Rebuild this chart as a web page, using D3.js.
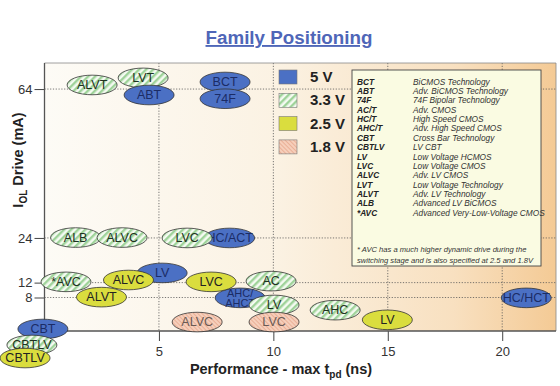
<!DOCTYPE html>
<html><head><meta charset="utf-8">
<script src="https://cdn.jsdelivr.net/npm/d3@7"></script>
<style>body{margin:0;background:#fff}svg{display:block;font-family:"Liberation Sans",Arial,sans-serif}</style>
</head><body><svg id="c" width="560" height="386"></svg>
<script>
// ---- data ----
const voltages = ["5 V", "3.3 V", "2.5 V", "1.8 V"];
const families = ["ALVT","LVT","ABT","BCT","74F","ALB","ALVC","HC/ACT","LVC","*AVC","LV","ALVC","ALVT","AHC/\nAHCT","LVC","AC","LV","AHC","ALVC","LVC","LV","HC/HCT","CBT","CBTLV","CBTLV"];
const familyVoltage = ["3.3 V","3.3 V","5 V","5 V","5 V","3.3 V","3.3 V","5 V","3.3 V","3.3 V","5 V","2.5 V","2.5 V","5 V","2.5 V","3.3 V","3.3 V","3.3 V","1.8 V","1.8 V","2.5 V","5 V","5 V","3.3 V","2.5 V"];
const perfNs  = [2.08,4.31,4.57,7.89,7.89,1.36,3.39,8.09,6.23,0.94,5.14,3.67,2.49,8.55,7.28,9.9,10.03,12.7,6.67,10.03,14.98,21.05,-0.07,-0.55,-0.85];
const driveMA = [65.1,67,62.4,65.9,61.4,24.1,24.1,24,24,12.2,14.6,12.7,8.1,7.9,12.2,12.4,6.0,4.6,1.4,1.4,2.0,7.9,-0.46,-4.76,-8.26];
const xTicks = [5, 10, 15, 20];
const yTicks = [64, 24, 12, 8];
const defAbbr = ["BCT","ABT","74F","AC/T","HC/T","AHC/T","CBT","CBTLV","LV","LVC","ALVC","LVT","ALVT","ALB","*AVC"];
const defText = ["BiCMOS Technology","Adv. BiCMOS Technology","74F Bipolar Technology","Adv. CMOS","High Speed CMOS","Adv. High Speed CMOS","Cross Bar Technology","LV CBT","Low Voltage HCMOS","Low Voltage CMOS","Adv. LV CMOS","Low Voltage Technology","Adv. LV Technology","Advanced LV BiCMOS","Advanced Very-Low-Voltage CMOS"];
const footnote = ["* AVC has a much higher dynamic drive during the","switching stage and is also specified at 2.5 and 1.8V"];

// ---- setup ----
const svg = d3.select("#c");
const x = d3.scaleLinear().domain([0, 22.35]).range([44.5, 556]);
const y = d3.scaleLinear().domain([-1, 71]).range([331, 63]);
const defs = svg.append("defs");

const grad = defs.append("linearGradient").attr("id","bg").attr("x1","0").attr("x2","1").attr("y1","0").attr("y2","0");
[["0%","#fdfbf6"],["45%","#fbf2e3"],["80%","#f8e0c0"],["100%","#f4ca95"]].forEach(s=>grad.append("stop").attr("offset",s[0]).attr("stop-color",s[1]));

const pg = defs.append("pattern").attr("id","hg").attr("width",5).attr("height",5).attr("patternUnits","userSpaceOnUse").attr("patternTransform","rotate(45)");
pg.append("rect").attr("width",5).attr("height",5).attr("fill","#f4faf1");
pg.append("rect").attr("width",2.4).attr("height",5).attr("fill","#9fd39a");
const ps = defs.append("pattern").attr("id","hs").attr("width",3).attr("height",3).attr("patternUnits","userSpaceOnUse").attr("patternTransform","rotate(-45)");
ps.append("rect").attr("width",3).attr("height",3).attr("fill","#f6cfbb");
ps.append("rect").attr("width",0.8).attr("height",3).attr("fill","#e8a88e");

const fills = {"5 V":"#4b70c4","3.3 V":"url(#hg)","2.5 V":"#dadd3e","1.8 V":"url(#hs)"};
const textCol = {"5 V":"#1b2c66","3.3 V":"#1e3320","2.5 V":"#222","1.8 V":"#6a5a55"};

// plot background
const [X0,X1] = x.range(), [Y0,Y1] = y.range();
svg.append("rect").attr("x",X0).attr("y",Y1).attr("width",X1-X0).attr("height",Y0-Y1).attr("fill","url(#bg)");

// gridlines
svg.append("g").selectAll("line").data(yTicks).join("line")
  .attr("x1",X0).attr("x2",X1).attr("y1",d=>y(d)).attr("y2",d=>y(d))
  .attr("stroke","#555").attr("stroke-width",0.8).attr("stroke-dasharray","1.2,1.6");
svg.append("g").selectAll("line").data(xTicks).join("line")
  .attr("x1",d=>x(d)).attr("x2",d=>x(d)).attr("y1",Y1).attr("y2",Y0)
  .attr("stroke","#555").attr("stroke-width",0.8).attr("stroke-dasharray","1.2,1.6");

// frame
svg.append("line").attr("x1",X0).attr("x2",X1).attr("y1",Y1).attr("y2",Y1).attr("stroke","#888").attr("stroke-width",0.8);
svg.append("line").attr("x1",X1).attr("x2",X1).attr("y1",Y1).attr("y2",Y0).attr("stroke","#888").attr("stroke-width",0.8);

// axes
const yAxis = svg.append("g").attr("transform",`translate(${X0},0)`)
  .call(d3.axisLeft(y).tickValues(yTicks).tickSize(10).tickPadding(2));
const xAxis = svg.append("g").attr("transform",`translate(0,${Y0})`)
  .call(d3.axisBottom(x).tickValues(xTicks).tickSize(10).tickPadding(6));
[yAxis,xAxis].forEach(a=>{
  a.select(".domain").remove();
  a.selectAll("line").attr("stroke","#444");
  a.selectAll("text").attr("font-size",13).attr("fill","#333").attr("font-family","'Liberation Sans',Arial,sans-serif");
});
svg.append("line").attr("x1",X0).attr("x2",X0).attr("y1",Y1).attr("y2",Y0).attr("stroke","#555").attr("stroke-width",1.3);
svg.append("line").attr("x1",X0).attr("x2",X1).attr("y1",Y0).attr("y2",Y0).attr("stroke","#555").attr("stroke-width",1.3);

// legend
const lg = svg.append("g");
voltages.forEach((v,i)=>{
  const ly = 70 + i*23.3;
  lg.append("rect").attr("x",279).attr("y",ly).attr("width",18).attr("height",14)
    .attr("fill",fills[v]).attr("stroke","#777").attr("stroke-width",0.6);
  lg.append("text").attr("x",310).attr("y",ly+12).attr("font-size",15).attr("font-weight","bold").attr("fill","#222").text(v);
});

// definition box
svg.append("rect").attr("x",352).attr("y",70).attr("width",189).attr("height",196)
  .attr("fill","#fafbe2").attr("stroke","#444").attr("stroke-width",0.9);
const dg = svg.append("g").attr("font-size",8.3).attr("font-style","italic").attr("fill","#333");
defAbbr.forEach((a,i)=>{
  const ty = 84.5 + i*9.38;
  dg.append("text").attr("x",357).attr("y",ty).attr("font-weight","bold").attr("fill","#222").text(a);
  dg.append("text").attr("x",413).attr("y",ty).text(defText[i]);
});
footnote.forEach((t,i)=>{
  dg.append("text").attr("x",357).attr("y",251.5+i*11).attr("font-size",7.6).text(t);
});

// ellipses
const items = families.map((f,i)=>({f, v:familyVoltage[i], px:perfNs[i], dm:driveMA[i]}));
const eg = svg.append("g").selectAll("g").data(items).join("g")
  .attr("transform",d=>`translate(${x(d.px)},${y(d.dm)})`);
eg.append("ellipse").attr("rx",25).attr("ry",9.8)
  .attr("fill",d=>fills[d.v]).attr("stroke","#333").attr("stroke-width",0.8);
eg.each(function(d){
  const lines = d.f.split("\n");
  const t = d3.select(this).append("text").attr("text-anchor","middle")
    .attr("font-size",lines.length>1?11:12.5).attr("fill",textCol[d.v]);
  lines.forEach((l,k)=>t.append("tspan").attr("x",0)
    .attr("y",(k-(lines.length-1)/2)*10.5 + 4.3).text(l));
});

// title
svg.append("text").attr("x",289).attr("y",44).attr("text-anchor","middle")
  .attr("font-size",18.8).attr("font-weight","bold").attr("fill","#4f66b8")
  .attr("text-decoration","underline").text("Family Positioning");

// axis labels
const yl = svg.append("text").attr("transform","translate(23,160) rotate(-90)").attr("text-anchor","middle")
  .attr("font-size",14.5).attr("font-weight","bold").attr("fill","#222");
yl.append("tspan").text("I");
yl.append("tspan").attr("font-size",10).attr("dy",4).text("OL");
yl.append("tspan").attr("dy",-4).text(" Drive (mA)");
const xl = svg.append("text").attr("x",281).attr("y",374).attr("text-anchor","middle")
  .attr("font-size",14.5).attr("font-weight","bold").attr("fill","#222");
xl.append("tspan").text("Performance - max t");
xl.append("tspan").attr("font-size",10).attr("dy",4).text("pd");
xl.append("tspan").attr("dy",-4).text(" (ns)");
</script></body></html>
